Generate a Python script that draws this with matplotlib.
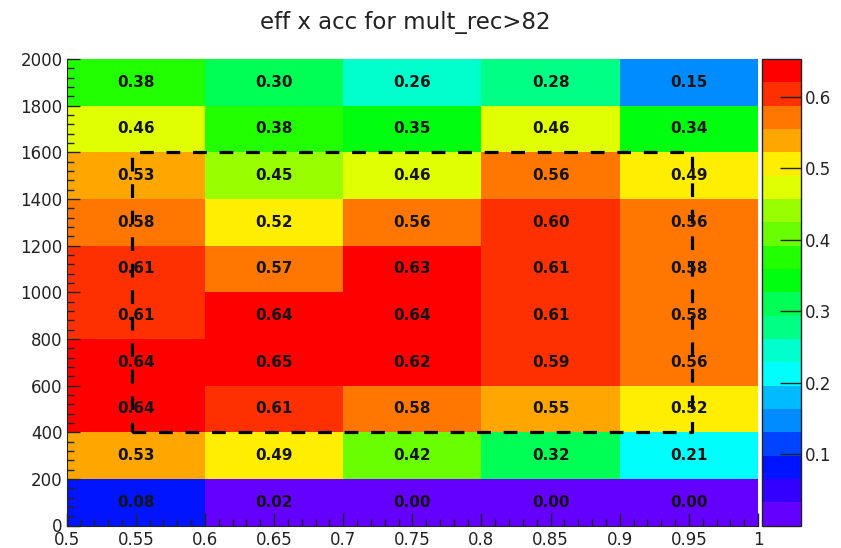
import colorsys

import matplotlib as mpl
import matplotlib.pyplot as plt
import numpy as np
from matplotlib.colors import BoundaryNorm, ListedColormap
from matplotlib.ticker import MultipleLocator

mpl.use("Agg")

# bin edges of the 2D histogram
x_edges = [0.5, 0.6, 0.7, 0.8, 0.9, 1.0]
y_edges = [0, 200, 400, 600, 800, 1000, 1200, 1400, 1600, 1800, 2000]

# eff x acc per bin, rows from the lowest y bin upwards
eff_acc = [
    [0.08, 0.02, 0.00, 0.00, 0.00],
    [0.53, 0.49, 0.42, 0.32, 0.21],
    [0.64, 0.61, 0.58, 0.55, 0.52],
    [0.64, 0.65, 0.62, 0.59, 0.56],
    [0.61, 0.64, 0.64, 0.61, 0.58],
    [0.61, 0.57, 0.63, 0.61, 0.58],
    [0.58, 0.52, 0.56, 0.60, 0.56],
    [0.53, 0.45, 0.46, 0.56, 0.49],
    [0.46, 0.38, 0.35, 0.46, 0.34],
    [0.38, 0.30, 0.26, 0.28, 0.15],
]

# selected region (dashed box)
box_x = (0.547, 0.952)
box_y = (400, 1600)

z_min, z_max = 0.0, 0.6525
n_levels = 20


def pretty_palette(n_contours):
    # violet -> red spectrum, 50 base colours picked per contour level
    base = []
    for i in range(50):
        hue = 280 - (i + 1) * 280 / 50
        base.append(colorsys.hls_to_rgb(hue / 360, 0.5, 1.0))
    picked = []
    for i in range(n_contours):
        idx = min(int((i + 0.99) * 50 / n_contours), 49)
        picked.append(base[idx])
    return picked


cmap = ListedColormap(pretty_palette(n_levels))
levels = np.linspace(z_min, z_max, n_levels + 1)
norm = BoundaryNorm(levels, cmap.N)

W, H = 841, 548
fig = plt.figure(figsize=(W / 100, H / 100), dpi=100)
ax = fig.add_axes([66.7 / W, 1 - 525.5 / H, (758 - 66.7) / W, (525.5 - 59) / H])
cax = fig.add_axes([762 / W, 1 - 525.5 / H, (801 - 762) / W, (525.5 - 59) / H])

z = np.array(eff_acc)
mesh = ax.pcolormesh(x_edges, y_edges, z, cmap=cmap, norm=norm)

xc = 0.5 * (np.array(x_edges[:-1]) + np.array(x_edges[1:]))
yc = 0.5 * (np.array(y_edges[:-1]) + np.array(y_edges[1:]))
for j, yy in enumerate(yc):
    for i, xx in enumerate(xc):
        ax.text(xx, yy, f"{z[j, i]:.2f}", ha="center", va="center",
                fontsize=11, fontweight="bold", color="#151515")

ax.plot([box_x[0], box_x[1], box_x[1], box_x[0], box_x[0]],
        [box_y[0], box_y[0], box_y[1], box_y[1], box_y[0]],
        color="black", lw=2.3, linestyle=(0, (4.3, 4)), solid_capstyle="butt")

ax.set_xlim(0.5, 1.0)
ax.set_ylim(0, 2000)
ax.xaxis.set_major_locator(MultipleLocator(0.05))
ax.xaxis.set_minor_locator(MultipleLocator(0.01))
ax.yaxis.set_major_locator(MultipleLocator(200))
ax.yaxis.set_minor_locator(MultipleLocator(40))
ax.xaxis.set_major_formatter(mpl.ticker.FuncFormatter(lambda v, p: f"{v:g}"))
ax.tick_params(which="both", direction="in", colors="#222222", labelsize=12, width=1)
ax.tick_params(which="major", length=9.5, pad=3)
ax.tick_params(which="minor", length=5)
ax.tick_params(axis="x", pad=4)
for side in ("top", "right"):
    ax.spines[side].set_visible(False)
for side in ("left", "bottom"):
    ax.spines[side].set_color("#222222")

cb = fig.colorbar(mesh, cax=cax, ticks=[0.1, 0.2, 0.3, 0.4, 0.5, 0.6])
cb.outline.set_edgecolor("#222222")
cb.outline.set_linewidth(1)
cax.yaxis.set_ticks_position("right")
cax.minorticks_off()
cax.tick_params(direction="in", length=15, width=1, pad=3, labelsize=12, colors="#222222")
cax.set_yticklabels(["0.1", "0.2", "0.3", "0.4", "0.5", "0.6"])

fig.text(405 / W, 1 - 22 / H, "eff x acc for mult_rec>82", ha="center", va="center",
         fontsize=16.5, color="#222222")

fig.savefig("out.png", dpi=100)
